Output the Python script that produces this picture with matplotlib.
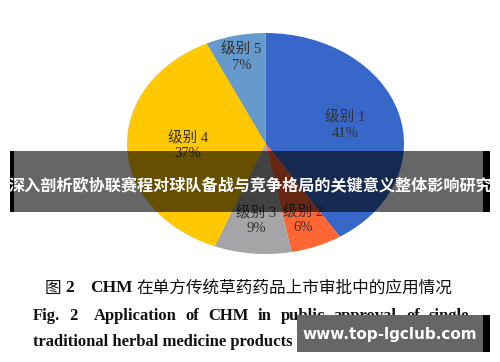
import matplotlib
matplotlib.use("Agg")
import matplotlib.pyplot as plt
from matplotlib.patches import Rectangle
import numpy as np

# pie data (clockwise from 12 o'clock)
levels = ["级别 1", "级别 2", "级别 3", "级别 4", "级别 5"]
shares = [41, 6, 9, 37, 7]
colors = ["#3767C9", "#FF6633", "#A5A5A8", "#FFC800", "#6699CC"]
label_dist = [0.60, 0.74, 0.70, 0.56, 0.80]

banner_text = "深入剖析欧协联赛程对球队备战与竞争格局的关键意义整体影响研究"
caption_cn = "在单方传统草药药品上市审批中的应用情况"
caption_en1 = ["Fig.", "2", "", "Application", "of", "CHM", "in", "public", "approval", "of", "single"]
caption_en2 = "traditional herbal medicine products"
watermark = "www.top-lgclub.com"

W, H = 500, 362
fig = plt.figure(figsize=(W / 100, H / 100), dpi=100)
fig.patch.set_facecolor("white")


def fx(px):
    return px / W


def fy(py):
    return 1 - py / H


# pie is an ellipse in the original, so use a non-square axes
ax = fig.add_axes([fx(127), fy(254), fx(277), 221 / H])
wedges, _ = ax.pie(shares, colors=colors, startangle=90, counterclock=False,
                   wedgeprops=dict(linewidth=0))
ax.set_aspect("auto")
ax.set_xlim(-1, 1)
ax.set_ylim(-1, 1)

lab_font = ["Liberation Serif", "Noto Sans CJK SC"]
for w, name, val, d in zip(wedges, levels, shares, label_dist):
    ang = np.deg2rad((w.theta1 + w.theta2) / 2)
    x, y = d * np.cos(ang), d * np.sin(ang)
    ax.text(x, y, f"{name}\n{val}%", ha="center", va="center",
            fontsize=10.5, color="#333333", family=lab_font, linespacing=1.2)

# dark translucent banner over the middle
fig.patches.append(Rectangle((fx(14), fy(212)), fx(469), 61 / H, transform=fig.transFigure,
                             facecolor="black", alpha=0.6, edgecolor="none"))
fig.patches.append(Rectangle((fx(10), fy(212)), fx(4), 61 / H, transform=fig.transFigure,
                             facecolor="black", edgecolor="none"))
fig.patches.append(Rectangle((fx(483), fy(212)), fx(7), 61 / H, transform=fig.transFigure,
                             facecolor="black", edgecolor="none"))
fig.text(fx(250), fy(185), banner_text, ha="center", va="center", color="white",
         fontsize=11.6, fontweight="bold", family=["Noto Sans CJK SC", "DejaVu Sans"])

# caption
fig.text(fx(45), fy(288), "图", ha="left", va="center", fontsize=12,
         family=["Noto Sans CJK SC"], color="#111111")
fig.text(fx(65), fy(288), "2", ha="left", va="center", fontsize=12.5,
         family="Liberation Serif", fontweight="bold", color="#111111")
fig.text(fx(90), fy(288), "CHM", ha="left", va="center", fontsize=12.5,
         family="Liberation Serif", fontweight="bold", color="#111111")
fig.text(fx(136), fy(288), caption_cn, ha="left", va="center", fontsize=12,
         family=["Noto Sans CJK SC"], color="#111111")

# justified English line
fig.canvas.draw()
renderer = fig.canvas.get_renderer()
words = [w for w in caption_en1 if w]
arts = [fig.text(0, fy(316), w, ha="left", va="center", fontsize=12,
                 family="Liberation Serif", fontweight="bold", color="#111111")
        for w in words]
widths = [a.get_window_extent(renderer).width for a in arts]
x0, x1 = 33, 462
gap = (x1 - x0 - sum(widths)) / (len(words) - 1)
x = x0
for i, (a, wd) in enumerate(zip(arts, widths)):
    a.set_x(fx(x))
    x += wd + gap + (gap * 0.8 if i == 1 else 0)
fig.text(fx(33), fy(342), caption_en2, ha="left", va="center", fontsize=12,
         family="Liberation Serif", fontweight="bold", color="#111111")

# watermark box
fig.patches.append(Rectangle((fx(297), fy(352)), fx(186), 37 / H, transform=fig.transFigure,
                             facecolor="#666666", edgecolor="none", zorder=5))
fig.patches.append(Rectangle((fx(483), fy(352)), fx(7), 37 / H, transform=fig.transFigure,
                             facecolor="black", edgecolor="none", zorder=5))
fig.text(fx(390), fy(334), watermark, ha="center", va="center", color="white",
         fontsize=11, fontweight="bold", family="DejaVu Sans", zorder=6)

fig.savefig("out.png", dpi=100, facecolor="white")
